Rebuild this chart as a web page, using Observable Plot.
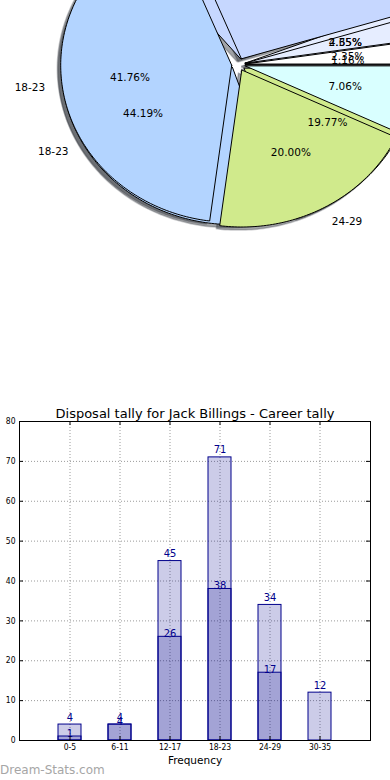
<!DOCTYPE html>
<html><head><meta charset="utf-8">
<script src="https://cdn.jsdelivr.net/npm/d3@7"></script>
<script src="https://cdn.jsdelivr.net/npm/@observablehq/plot@0.6"></script>
<style>
html,body{margin:0;padding:0;background:#fff;overflow:hidden;width:390px;height:780px;}
#pie{position:absolute;left:0;top:0;width:390px;height:400px;overflow:hidden;}
#bars{position:absolute;left:0;top:400px;width:390px;height:380px;overflow:hidden;}
#brand{position:absolute;left:0;top:763px;font:12px "DejaVu Sans";color:#a6a6a6;white-space:nowrap;}
svg{overflow:hidden;}
</style></head><body>
<div id="pie"></div><div id="bars"></div><div id="brand">Dream-Stats.com</div>
<script>
const categories = ["0-5","6-11","12-17","18-23","24-29","30-35"];
const careerTally = [4,4,45,71,34,12];
const subsetTally = [1,4,26,38,17,0];
const yTicks = [0,10,20,30,40,50,60,70,80];
const titleText = "Disposal tally for Jack Billings - Career tally";
const xLabel = "Frequency";
const pieColors = ["#ffffff","#e6edff","#c6d7ff","#b3d4ff","#d0ea8c","#d9ffff"];
const explode = 0.04;

function wedges(values, series) {
  const total = d3.sum(values);
  let acc = 0;
  const out = [];
  values.forEach((v, i) => {
    const a0 = acc / total * 2 * Math.PI; acc += v; const a1 = acc / total * 2 * Math.PI;
    if (v <= 0) return;
    const mid = (a0 + a1) / 2;
    const cx = explode * Math.cos(mid), cy = explode * Math.sin(mid);
    const key = series + "-" + categories[i];
    const pts = [{x: cx, y: cy, key, cat: categories[i]}];
    const n = Math.max(2, Math.ceil((a1 - a0) / (Math.PI / 180)));
    for (let k = 0; k <= n; k++) {
      const a = a0 + (a1 - a0) * k / n;
      pts.push({x: cx + Math.cos(a), y: cy + Math.sin(a), key, cat: categories[i]});
    }
    pts.push({x: cx, y: cy, key, cat: categories[i]});
    out.push({series, cat: categories[i], pts, mid, cx, cy, pct: v / total * 100});
  });
  return out;
}

const subW = wedges(subsetTally, "subset");
const carW = wedges(careerTally, "career");
const allW = subW.concat(carW);
const pctLabels = allW.map(w => ({x: w.cx + 0.6 * Math.cos(w.mid), y: w.cy + 0.6 * Math.sin(w.mid), t: w.pct.toFixed(2) + "%"}));
const catLabels = allW.map(w => ({x: w.cx + 1.1 * Math.cos(w.mid), y: w.cy + 1.1 * Math.sin(w.mid), t: w.cat, right: Math.cos(w.mid) > 0}));

const pie = Plot.plot({
  width: 390, height: 400, margin: 0,
  x: {domain: [-1, 1], range: [238 - 171, 238 + 171], axis: null},
  y: {domain: [-1, 1], range: [64 + 157, 64 - 157], axis: null},
  color: {domain: categories, range: pieColors},
  style: {fontFamily: "DejaVu Sans", background: "transparent"},
  marks: [
    Plot.line(allW.flatMap(w => w.pts), {x: "x", y: "y", z: "key", fill: "#2e333a", fillOpacity: 0.45, stroke: "#2e333a", strokeOpacity: 0.25, dx: -3.4, dy: 3.1, curve: "linear"}),
    Plot.line(subW.flatMap(w => w.pts), {x: "x", y: "y", z: "key", fill: "cat", stroke: "black", strokeWidth: 1, curve: "linear"}),
    Plot.line(carW.flatMap(w => w.pts), {x: "x", y: "y", z: "key", fill: "cat", stroke: "black", strokeWidth: 1, curve: "linear"}),
    Plot.text(pctLabels, {x: "x", y: "y", text: "t", fontSize: 10.5, fill: "black"}),
    Plot.text(catLabels.filter(d => d.right), {x: "x", y: "y", text: "t", textAnchor: "start", fontSize: 10.5, fill: "black"}),
    Plot.text(catLabels.filter(d => !d.right), {x: "x", y: "y", text: "t", textAnchor: "end", fontSize: 10.5, fill: "black"})
  ]
});
document.getElementById("pie").appendChild(pie);

const barRows = categories.map((c, i) => ({cat: c, career: careerTally[i], subset: subsetTally[i]}));
const subRows = barRows.filter(d => d.subset > 0);
const navy = "#00008b";
const cond = "'DejaVu Sans Condensed','DejaVu Sans'";

const bars = Plot.plot({
  width: 390, height: 380, marginLeft: 19, marginRight: 20, marginTop: 21, marginBottom: 40,
  x: {type: "band", domain: categories, range: [44, 344], paddingInner: 0.54, paddingOuter: 0.27, label: null},
  y: {domain: [0, 80], label: null},
  style: {fontFamily: "DejaVu Sans", background: "white"},
  marks: [
    Plot.ruleY(yTicks, {stroke: "#9a9a9a", strokeDasharray: "1,2"}),
    Plot.ruleX(categories, {x: d => d, stroke: "#9a9a9a", strokeDasharray: "1,2"}),
    Plot.barY(barRows, {x: "cat", y: "career", fill: navy, fillOpacity: 0.2, stroke: navy, strokeWidth: 1}),
    Plot.barY(subRows, {x: "cat", y: "subset", fill: navy, fillOpacity: 0.2, stroke: navy, strokeWidth: 1}),
    Plot.text(barRows, {x: "cat", y: "career", text: d => String(d.career), dy: -4, lineAnchor: "bottom", fill: navy, fontSize: 11, fontFamily: cond}),
    Plot.text(subRows, {x: "cat", y: "subset", text: d => String(d.subset), lineAnchor: "bottom", fill: navy, fontSize: 11, fontFamily: cond}),
    Plot.ruleY(yTicks, {stroke: "black", insetRight: 347}),
    Plot.ruleY(yTicks, {stroke: "black", insetLeft: 347}),
    Plot.ruleX(categories, {x: d => d, stroke: "black", insetTop: 315}),
    Plot.ruleX(categories, {x: d => d, stroke: "black", insetBottom: 315}),
    Plot.frame({stroke: "black"}),
    Plot.axisX({tickSize: 0, tickPadding: 3, fontSize: 8.5, fontFamily: cond, label: null}),
    Plot.axisY({ticks: yTicks, tickSize: 0, tickPadding: 4, fontSize: 8.5, fontFamily: cond, label: null}),
    Plot.text([titleText], {frameAnchor: "top", lineAnchor: "middle", dy: -8, fontSize: 13, fill: "black"}),
    Plot.text([xLabel], {frameAnchor: "bottom", lineAnchor: "middle", dy: 20, fontSize: 10.5, fill: "black"})
  ]
});
document.getElementById("bars").appendChild(bars);
</script>
</body></html>
